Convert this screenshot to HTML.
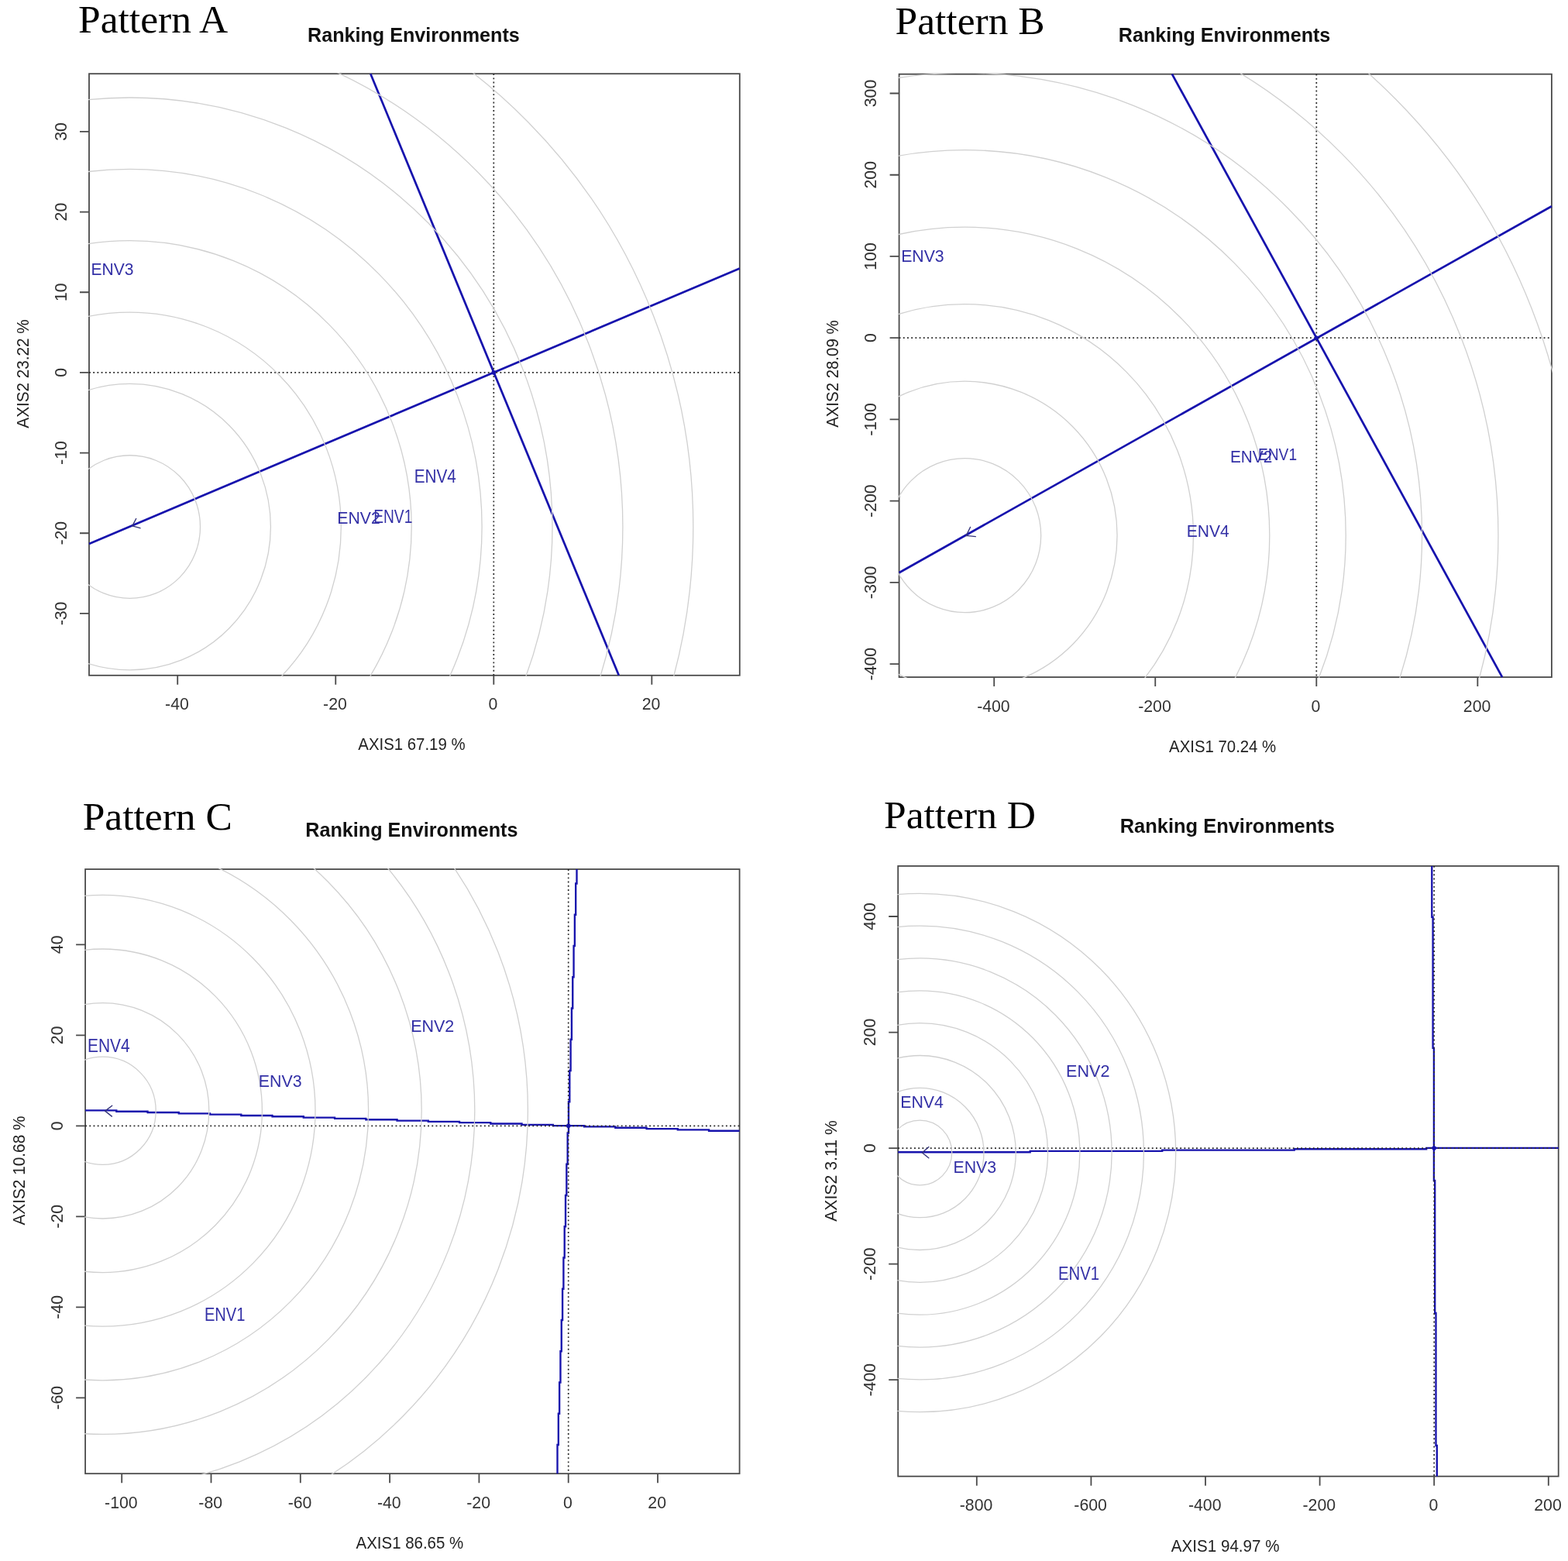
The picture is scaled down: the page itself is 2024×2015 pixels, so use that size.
<!DOCTYPE html>
<html><head><meta charset="utf-8"><title>Ranking Environments</title>
<style>html,body{margin:0;padding:0;background:#fff;}svg{display:block;}</style></head><body>
<svg xmlns="http://www.w3.org/2000/svg" width="2024" height="2015" viewBox="0 0 2024 2015">
<rect x="0" y="0" width="2024" height="2015" fill="#fff"/>
<defs>
<clipPath id="clipA"><rect x="114" y="94.2" width="841.8" height="778.6"/></clipPath>
<clipPath id="clipB"><rect x="1159.6" y="94.7" width="844.3" height="780.4"/></clipPath>
<clipPath id="clipC"><rect x="109.1" y="1121" width="846.5" height="782.2"/></clipPath>
<clipPath id="clipD"><rect x="1158.2" y="1116.9" width="854.5" height="789.8"/></clipPath>
</defs>
<g id="panelA">
<rect x="115" y="95.2" width="839.8" height="776.6" fill="none" stroke="#4a4a4a" stroke-width="1.8"/>
<path d="M229.22 871.8V883.8M433.26 871.8V883.8M637.3 871.8V883.8M841.34 871.8V883.8M115 791.91H103M115 688.24H103M115 584.57H103M115 480.9H103M115 377.23H103M115 273.56H103M115 169.89H103" stroke="#4a4a4a" stroke-width="1.8" fill="none"/>
<text transform="translate(228.42 916.42) scale(0.9500 1)" text-anchor="middle" font-family="'Liberation Sans', Arial, sans-serif" font-size="22.4" fill="#333">-40</text>
<text transform="translate(432.46 916.42) scale(0.9500 1)" text-anchor="middle" font-family="'Liberation Sans', Arial, sans-serif" font-size="22.4" fill="#333">-20</text>
<text transform="translate(636.5 916.42) scale(0.9500 1)" text-anchor="middle" font-family="'Liberation Sans', Arial, sans-serif" font-size="22.4" fill="#333">0</text>
<text transform="translate(840.54 916.42) scale(0.9500 1)" text-anchor="middle" font-family="'Liberation Sans', Arial, sans-serif" font-size="22.4" fill="#333">20</text>
<text transform="translate(85.62 791.91) rotate(-90) scale(0.9500 1)" text-anchor="middle" font-family="'Liberation Sans', Arial, sans-serif" font-size="22.4" fill="#333">-30</text>
<text transform="translate(85.62 688.24) rotate(-90) scale(0.9500 1)" text-anchor="middle" font-family="'Liberation Sans', Arial, sans-serif" font-size="22.4" fill="#333">-20</text>
<text transform="translate(85.62 584.57) rotate(-90) scale(0.9500 1)" text-anchor="middle" font-family="'Liberation Sans', Arial, sans-serif" font-size="22.4" fill="#333">-10</text>
<text transform="translate(85.62 480.9) rotate(-90) scale(0.9500 1)" text-anchor="middle" font-family="'Liberation Sans', Arial, sans-serif" font-size="22.4" fill="#333">0</text>
<text transform="translate(85.62 377.23) rotate(-90) scale(0.9500 1)" text-anchor="middle" font-family="'Liberation Sans', Arial, sans-serif" font-size="22.4" fill="#333">10</text>
<text transform="translate(85.62 273.56) rotate(-90) scale(0.9500 1)" text-anchor="middle" font-family="'Liberation Sans', Arial, sans-serif" font-size="22.4" fill="#333">20</text>
<text transform="translate(85.62 169.89) rotate(-90) scale(0.9500 1)" text-anchor="middle" font-family="'Liberation Sans', Arial, sans-serif" font-size="22.4" fill="#333">30</text>
<g clip-path="url(#clipA)">
<path d="M115 701.9L954.8 346.4M478.3 95.2L798.8 871.8" stroke="#1713ad" stroke-width="2.75" fill="none"/>
<path d="M115 480.9H954.8M637.3 95.2V871.8" stroke="#2a2a2a" stroke-width="1.7" stroke-dasharray="1.9 3.3" fill="none"/>
<circle cx="637.3" cy="480.9" r="2.8" fill="#1713ad"/>
<path d="M175.7 669.5L170.8 678.9M170.8 678.9L180.9 681.7" stroke="#34347a" stroke-width="1.4" fill="none" stroke-linecap="round"/>
<g fill="none" stroke="#d0d0d0" stroke-width="1.3"><ellipse cx="167.6" cy="680.1" rx="90.9" ry="92.35"/><ellipse cx="167.6" cy="680.1" rx="181.8" ry="184.7"/><ellipse cx="167.6" cy="680.1" rx="272.7" ry="277.05"/><ellipse cx="167.6" cy="680.1" rx="363.6" ry="369.4"/><ellipse cx="167.6" cy="680.1" rx="454.5" ry="461.75"/><ellipse cx="167.6" cy="680.1" rx="545.4" ry="554.1"/><ellipse cx="167.6" cy="680.1" rx="636.3" ry="646.45"/><ellipse cx="167.6" cy="680.1" rx="727.2" ry="738.8"/></g>
</g>
<text transform="translate(117.46 355.48) scale(0.9383 1)" font-family="'Liberation Sans', Arial, sans-serif" font-size="22.47" fill="#3330a6">ENV3</text>
<text transform="translate(534.69 623.1) scale(0.8865 1)" font-family="'Liberation Sans', Arial, sans-serif" font-size="23.42" fill="#3330a6">ENV4</text>
<text transform="translate(435.25 675.7) scale(0.9432 1)" font-family="'Liberation Sans', Arial, sans-serif" font-size="22.51" fill="#3330a6">ENV2</text>
<text transform="translate(482.22 674.5) scale(0.8145 1)" font-family="'Liberation Sans', Arial, sans-serif" font-size="23.56" fill="#3330a6">ENV1</text>
<text transform="translate(101.05 41.5) scale(1.0000 1)" font-family="'Liberation Serif', 'Times New Roman', serif" font-size="51.5" fill="#000">Pattern A</text>
<text transform="translate(397 53.7) scale(0.9899 1)" font-family="'Liberation Sans', Arial, sans-serif" font-size="25.4" font-weight="bold" fill="#111">Ranking Environments</text>
<text transform="translate(462.35 967.98) scale(0.9362 1)" font-family="'Liberation Sans', Arial, sans-serif" font-size="21.77" fill="#222">AXIS1 67.19 %</text>
<text transform="translate(36.57 552.65) rotate(-90) scale(0.9162 1)" font-family="'Liberation Sans', Arial, sans-serif" font-size="22.61" fill="#222">AXIS2 23.22 %</text>
</g>
<g id="panelB">
<rect x="1160.6" y="95.7" width="842.3" height="778.4" fill="none" stroke="#4a4a4a" stroke-width="1.8"/>
<path d="M1283.22 874.1V886.1M1491.26 874.1V886.1M1699.3 874.1V886.1M1907.34 874.1V886.1M1160.6 857.12H1148.6M1160.6 751.89H1148.6M1160.6 646.66H1148.6M1160.6 541.43H1148.6M1160.6 436.2H1148.6M1160.6 330.97H1148.6M1160.6 225.74H1148.6M1160.6 120.51H1148.6" stroke="#4a4a4a" stroke-width="1.8" fill="none"/>
<text transform="translate(1282.42 918.72) scale(0.9500 1)" text-anchor="middle" font-family="'Liberation Sans', Arial, sans-serif" font-size="22.4" fill="#333">-400</text>
<text transform="translate(1490.46 918.72) scale(0.9500 1)" text-anchor="middle" font-family="'Liberation Sans', Arial, sans-serif" font-size="22.4" fill="#333">-200</text>
<text transform="translate(1698.5 918.72) scale(0.9500 1)" text-anchor="middle" font-family="'Liberation Sans', Arial, sans-serif" font-size="22.4" fill="#333">0</text>
<text transform="translate(1906.54 918.72) scale(0.9500 1)" text-anchor="middle" font-family="'Liberation Sans', Arial, sans-serif" font-size="22.4" fill="#333">200</text>
<text transform="translate(1131.22 857.12) rotate(-90) scale(0.9500 1)" text-anchor="middle" font-family="'Liberation Sans', Arial, sans-serif" font-size="22.4" fill="#333">-400</text>
<text transform="translate(1131.22 751.89) rotate(-90) scale(0.9500 1)" text-anchor="middle" font-family="'Liberation Sans', Arial, sans-serif" font-size="22.4" fill="#333">-300</text>
<text transform="translate(1131.22 646.66) rotate(-90) scale(0.9500 1)" text-anchor="middle" font-family="'Liberation Sans', Arial, sans-serif" font-size="22.4" fill="#333">-200</text>
<text transform="translate(1131.22 541.43) rotate(-90) scale(0.9500 1)" text-anchor="middle" font-family="'Liberation Sans', Arial, sans-serif" font-size="22.4" fill="#333">-100</text>
<text transform="translate(1131.22 436.2) rotate(-90) scale(0.9500 1)" text-anchor="middle" font-family="'Liberation Sans', Arial, sans-serif" font-size="22.4" fill="#333">0</text>
<text transform="translate(1131.22 330.97) rotate(-90) scale(0.9500 1)" text-anchor="middle" font-family="'Liberation Sans', Arial, sans-serif" font-size="22.4" fill="#333">100</text>
<text transform="translate(1131.22 225.74) rotate(-90) scale(0.9500 1)" text-anchor="middle" font-family="'Liberation Sans', Arial, sans-serif" font-size="22.4" fill="#333">200</text>
<text transform="translate(1131.22 120.51) rotate(-90) scale(0.9500 1)" text-anchor="middle" font-family="'Liberation Sans', Arial, sans-serif" font-size="22.4" fill="#333">300</text>
<g clip-path="url(#clipB)">
<path d="M1160.6 739.2L2002.9 266.2M1512.9 95.7L1939.1 874.1" stroke="#1713ad" stroke-width="2.75" fill="none"/>
<path d="M1160.6 436.2H2002.9M1699.3 95.7V874.1" stroke="#2a2a2a" stroke-width="1.7" stroke-dasharray="1.9 3.3" fill="none"/>
<circle cx="1699.3" cy="436.2" r="2.8" fill="#1713ad"/>
<path d="M1252.5 680.5L1247.2 691.4M1247.2 691.4L1259.3 692.6" stroke="#34347a" stroke-width="1.4" fill="none" stroke-linecap="round"/>
<g fill="none" stroke="#d0d0d0" stroke-width="1.3"><ellipse cx="1245.3" cy="691.2" rx="98.38" ry="99.51"/><ellipse cx="1245.3" cy="691.2" rx="196.76" ry="199.02"/><ellipse cx="1245.3" cy="691.2" rx="295.14" ry="298.53"/><ellipse cx="1245.3" cy="691.2" rx="393.52" ry="398.04"/><ellipse cx="1245.3" cy="691.2" rx="491.9" ry="497.55"/><ellipse cx="1245.3" cy="691.2" rx="590.28" ry="597.06"/><ellipse cx="1245.3" cy="691.2" rx="688.66" ry="696.57"/><ellipse cx="1245.3" cy="691.2" rx="787.04" ry="796.08"/></g>
</g>
<text transform="translate(1163.15 337.97) scale(0.9395 1)" font-family="'Liberation Sans', Arial, sans-serif" font-size="22.61" fill="#3330a6">ENV3</text>
<text transform="translate(1531.76 693.2) scale(0.9155 1)" font-family="'Liberation Sans', Arial, sans-serif" font-size="22.98" fill="#3330a6">ENV4</text>
<text transform="translate(1587.99 597.2) scale(0.9235 1)" font-family="'Liberation Sans', Arial, sans-serif" font-size="22.51" fill="#3330a6">ENV2</text>
<text transform="translate(1624.02 594.3) scale(0.8441 1)" font-family="'Liberation Sans', Arial, sans-serif" font-size="22.69" fill="#3330a6">ENV1</text>
<text transform="translate(1155.55 44.3) scale(1.0000 1)" font-family="'Liberation Serif', 'Times New Roman', serif" font-size="51.5" fill="#000">Pattern B</text>
<text transform="translate(1443.8 54) scale(0.9895 1)" font-family="'Liberation Sans', Arial, sans-serif" font-size="25.4" font-weight="bold" fill="#111">Ranking Environments</text>
<text transform="translate(1509.05 970.68) scale(0.9074 1)" font-family="'Liberation Sans', Arial, sans-serif" font-size="22.47" fill="#222">AXIS1 70.24 %</text>
<text transform="translate(1082.17 551.85) rotate(-90) scale(0.8913 1)" font-family="'Liberation Sans', Arial, sans-serif" font-size="22.9" fill="#222">AXIS2 28.09 %</text>
</g>
<g id="panelC">
<rect x="110.1" y="1122" width="844.5" height="780.2" fill="none" stroke="#4a4a4a" stroke-width="1.8"/>
<path d="M157.2 1902.2V1914.2M272.5 1902.2V1914.2M387.8 1902.2V1914.2M503.1 1902.2V1914.2M618.4 1902.2V1914.2M733.7 1902.2V1914.2M849 1902.2V1914.2M110.1 1804.3H98.1M110.1 1687.3H98.1M110.1 1570.3H98.1M110.1 1453.3H98.1M110.1 1336.3H98.1M110.1 1219.3H98.1" stroke="#4a4a4a" stroke-width="1.8" fill="none"/>
<text transform="translate(156.4 1946.82) scale(0.9500 1)" text-anchor="middle" font-family="'Liberation Sans', Arial, sans-serif" font-size="22.4" fill="#333">-100</text>
<text transform="translate(271.7 1946.82) scale(0.9500 1)" text-anchor="middle" font-family="'Liberation Sans', Arial, sans-serif" font-size="22.4" fill="#333">-80</text>
<text transform="translate(387 1946.82) scale(0.9500 1)" text-anchor="middle" font-family="'Liberation Sans', Arial, sans-serif" font-size="22.4" fill="#333">-60</text>
<text transform="translate(502.3 1946.82) scale(0.9500 1)" text-anchor="middle" font-family="'Liberation Sans', Arial, sans-serif" font-size="22.4" fill="#333">-40</text>
<text transform="translate(617.6 1946.82) scale(0.9500 1)" text-anchor="middle" font-family="'Liberation Sans', Arial, sans-serif" font-size="22.4" fill="#333">-20</text>
<text transform="translate(732.9 1946.82) scale(0.9500 1)" text-anchor="middle" font-family="'Liberation Sans', Arial, sans-serif" font-size="22.4" fill="#333">0</text>
<text transform="translate(848.2 1946.82) scale(0.9500 1)" text-anchor="middle" font-family="'Liberation Sans', Arial, sans-serif" font-size="22.4" fill="#333">20</text>
<text transform="translate(80.72 1804.3) rotate(-90) scale(0.9500 1)" text-anchor="middle" font-family="'Liberation Sans', Arial, sans-serif" font-size="22.4" fill="#333">-60</text>
<text transform="translate(80.72 1687.3) rotate(-90) scale(0.9500 1)" text-anchor="middle" font-family="'Liberation Sans', Arial, sans-serif" font-size="22.4" fill="#333">-40</text>
<text transform="translate(80.72 1570.3) rotate(-90) scale(0.9500 1)" text-anchor="middle" font-family="'Liberation Sans', Arial, sans-serif" font-size="22.4" fill="#333">-20</text>
<text transform="translate(80.72 1453.3) rotate(-90) scale(0.9500 1)" text-anchor="middle" font-family="'Liberation Sans', Arial, sans-serif" font-size="22.4" fill="#333">0</text>
<text transform="translate(80.72 1336.3) rotate(-90) scale(0.9500 1)" text-anchor="middle" font-family="'Liberation Sans', Arial, sans-serif" font-size="22.4" fill="#333">20</text>
<text transform="translate(80.72 1219.3) rotate(-90) scale(0.9500 1)" text-anchor="middle" font-family="'Liberation Sans', Arial, sans-serif" font-size="22.4" fill="#333">40</text>
<g clip-path="url(#clipC)">
<path d="M110.1 1433.4L150.3 1433.4L150.3 1434.72L190.55 1434.72L190.55 1436.03L230.8 1436.03L230.8 1437.35L271.05 1437.35L271.05 1438.66L311.3 1438.66L311.3 1439.98L351.55 1439.98L351.55 1441.29L391.8 1441.29L391.8 1442.61L432.05 1442.61L432.05 1443.92L472.3 1443.92L472.3 1445.24L512.55 1445.24L512.55 1446.55L552.8 1446.55L552.8 1447.87L593.05 1447.87L593.05 1449.18L633.3 1449.18L633.3 1450.5L673.55 1450.5L673.55 1451.81L713.8 1451.81L713.8 1453.12L754.05 1453.12L754.05 1454.44L794.3 1454.44L794.3 1455.76L834.55 1455.76L834.55 1457.07L874.8 1457.07L874.8 1458.38L915.05 1458.38L915.05 1459.7L954.6 1459.7M744.5 1122L744.5 1140.5L743.18 1140.5L743.18 1180.75L741.87 1180.75L741.87 1221L740.55 1221L740.55 1261.25L739.24 1261.25L739.24 1301.5L737.92 1301.5L737.92 1341.75L736.61 1341.75L736.61 1382L735.29 1382L735.29 1422.25L733.97 1422.25L733.97 1462.5L732.66 1462.5L732.66 1502.75L731.34 1502.75L731.34 1543L730.03 1543L730.03 1583.25L728.71 1583.25L728.71 1623.5L727.39 1623.5L727.39 1663.75L726.08 1663.75L726.08 1704L724.76 1704L724.76 1744.25L723.45 1744.25L723.45 1784.5L722.13 1784.5L722.13 1824.75L720.82 1824.75L720.82 1865L719.5 1865L719.5 1902.2" stroke="#1713ad" stroke-width="2.35" fill="none" stroke-linejoin="miter"/>
<path d="M110.1 1453.3H954.6M733.7 1122V1902.2" stroke="#2a2a2a" stroke-width="1.7" stroke-dasharray="1.9 3.3" fill="none"/>
<circle cx="733.7" cy="1453.3" r="2.8" fill="#1713ad"/>
<path d="M144.7 1427.2L135.7 1434.1M135.7 1434.1L144.4 1441.1" stroke="#34347a" stroke-width="1.4" fill="none" stroke-linecap="round"/>
<g fill="none" stroke="#d0d0d0" stroke-width="1.3"><ellipse cx="132.6" cy="1433.8" rx="68.6" ry="69.6"/><ellipse cx="132.6" cy="1433.8" rx="137.2" ry="139.2"/><ellipse cx="132.6" cy="1433.8" rx="205.8" ry="208.8"/><ellipse cx="132.6" cy="1433.8" rx="274.4" ry="278.4"/><ellipse cx="132.6" cy="1433.8" rx="343" ry="348"/><ellipse cx="132.6" cy="1433.8" rx="411.6" ry="417.6"/><ellipse cx="132.6" cy="1433.8" rx="480.2" ry="487.2"/><ellipse cx="132.6" cy="1433.8" rx="548.8" ry="556.8"/></g>
</g>
<text transform="translate(112.97 1358.1) scale(0.9063 1)" font-family="'Liberation Sans', Arial, sans-serif" font-size="23.13" fill="#3330a6">ENV4</text>
<text transform="translate(333.84 1402.97) scale(0.9431 1)" font-family="'Liberation Sans', Arial, sans-serif" font-size="22.61" fill="#3330a6">ENV3</text>
<text transform="translate(530.23 1331.9) scale(0.9361 1)" font-family="'Liberation Sans', Arial, sans-serif" font-size="22.94" fill="#3330a6">ENV2</text>
<text transform="translate(263.94 1705) scale(0.8700 1)" font-family="'Liberation Sans', Arial, sans-serif" font-size="23.13" fill="#3330a6">ENV1</text>
<text transform="translate(106.66 1071.1) scale(1.0000 1)" font-family="'Liberation Serif', 'Times New Roman', serif" font-size="51.5" fill="#000">Pattern C</text>
<text transform="translate(394.2 1079.8) scale(0.9921 1)" font-family="'Liberation Sans', Arial, sans-serif" font-size="25.4" font-weight="bold" fill="#111">Ranking Environments</text>
<text transform="translate(459.55 1998.78) scale(0.9396 1)" font-family="'Liberation Sans', Arial, sans-serif" font-size="21.77" fill="#222">AXIS1 86.65 %</text>
<text transform="translate(31.57 1581.55) rotate(-90) scale(0.9201 1)" font-family="'Liberation Sans', Arial, sans-serif" font-size="22.61" fill="#222">AXIS2 10.68 %</text>
</g>
<g id="panelD">
<rect x="1159.2" y="1117.9" width="852.5" height="787.8" fill="none" stroke="#4a4a4a" stroke-width="1.8"/>
<path d="M1260.8 1905.7V1917.7M1408.4 1905.7V1917.7M1556 1905.7V1917.7M1703.6 1905.7V1917.7M1851.2 1905.7V1917.7M1998.8 1905.7V1917.7M1159.2 1781.22H1147.2M1159.2 1631.66H1147.2M1159.2 1482.1H1147.2M1159.2 1332.54H1147.2M1159.2 1182.98H1147.2" stroke="#4a4a4a" stroke-width="1.8" fill="none"/>
<text transform="translate(1260 1950.32) scale(0.9500 1)" text-anchor="middle" font-family="'Liberation Sans', Arial, sans-serif" font-size="22.4" fill="#333">-800</text>
<text transform="translate(1407.6 1950.32) scale(0.9500 1)" text-anchor="middle" font-family="'Liberation Sans', Arial, sans-serif" font-size="22.4" fill="#333">-600</text>
<text transform="translate(1555.2 1950.32) scale(0.9500 1)" text-anchor="middle" font-family="'Liberation Sans', Arial, sans-serif" font-size="22.4" fill="#333">-400</text>
<text transform="translate(1702.8 1950.32) scale(0.9500 1)" text-anchor="middle" font-family="'Liberation Sans', Arial, sans-serif" font-size="22.4" fill="#333">-200</text>
<text transform="translate(1850.4 1950.32) scale(0.9500 1)" text-anchor="middle" font-family="'Liberation Sans', Arial, sans-serif" font-size="22.4" fill="#333">0</text>
<text transform="translate(1998 1950.32) scale(0.9500 1)" text-anchor="middle" font-family="'Liberation Sans', Arial, sans-serif" font-size="22.4" fill="#333">200</text>
<text transform="translate(1129.82 1781.22) rotate(-90) scale(0.9500 1)" text-anchor="middle" font-family="'Liberation Sans', Arial, sans-serif" font-size="22.4" fill="#333">-400</text>
<text transform="translate(1129.82 1631.66) rotate(-90) scale(0.9500 1)" text-anchor="middle" font-family="'Liberation Sans', Arial, sans-serif" font-size="22.4" fill="#333">-200</text>
<text transform="translate(1129.82 1482.1) rotate(-90) scale(0.9500 1)" text-anchor="middle" font-family="'Liberation Sans', Arial, sans-serif" font-size="22.4" fill="#333">0</text>
<text transform="translate(1129.82 1332.54) rotate(-90) scale(0.9500 1)" text-anchor="middle" font-family="'Liberation Sans', Arial, sans-serif" font-size="22.4" fill="#333">200</text>
<text transform="translate(1129.82 1182.98) rotate(-90) scale(0.9500 1)" text-anchor="middle" font-family="'Liberation Sans', Arial, sans-serif" font-size="22.4" fill="#333">400</text>
<g clip-path="url(#clipD)">
<path d="M1159.2 1487.2L1329.7 1487.2L1329.7 1485.88L1500.2 1485.88L1500.2 1484.55L1670.7 1484.55L1670.7 1483.23L1841.2 1483.23L1841.2 1481.9L2011.7 1481.9M1848.3 1117.9L1848.3 1183.7L1849.6 1183.7L1849.6 1352.7L1850.9 1352.7L1850.9 1524L1852.2 1524L1852.2 1695L1853.5 1695L1853.5 1866L1854.8 1866L1854.8 1905.7" stroke="#1713ad" stroke-width="2.35" fill="none" stroke-linejoin="miter"/>
<path d="M1159.2 1482.1H2011.7M1851.2 1117.9V1905.7" stroke="#2a2a2a" stroke-width="1.7" stroke-dasharray="1.9 3.3" fill="none"/>
<circle cx="1851.2" cy="1482.1" r="2.8" fill="#1713ad"/>
<path d="M1198.8 1480.5L1190.4 1488M1190.4 1488L1198.8 1494.8" stroke="#34347a" stroke-width="1.4" fill="none" stroke-linecap="round"/>
<g fill="none" stroke="#d0d0d0" stroke-width="1.3"><ellipse cx="1187.4" cy="1488" rx="41.29" ry="41.84"/><ellipse cx="1187.4" cy="1488" rx="82.58" ry="83.68"/><ellipse cx="1187.4" cy="1488" rx="123.87" ry="125.52"/><ellipse cx="1187.4" cy="1488" rx="165.16" ry="167.36"/><ellipse cx="1187.4" cy="1488" rx="206.45" ry="209.2"/><ellipse cx="1187.4" cy="1488" rx="247.74" ry="251.04"/><ellipse cx="1187.4" cy="1488" rx="289.03" ry="292.88"/><ellipse cx="1187.4" cy="1488" rx="330.32" ry="334.72"/></g>
</g>
<text transform="translate(1376.12 1389.8) scale(0.9455 1)" font-family="'Liberation Sans', Arial, sans-serif" font-size="22.8" fill="#3330a6">ENV2</text>
<text transform="translate(1162.14 1429.8) scale(0.9354 1)" font-family="'Liberation Sans', Arial, sans-serif" font-size="22.84" fill="#3330a6">ENV4</text>
<text transform="translate(1230.44 1513.58) scale(0.9490 1)" font-family="'Liberation Sans', Arial, sans-serif" font-size="22.47" fill="#3330a6">ENV3</text>
<text transform="translate(1366.03 1651.9) scale(0.8770 1)" font-family="'Liberation Sans', Arial, sans-serif" font-size="23.13" fill="#3330a6">ENV1</text>
<text transform="translate(1141.05 1068.5) scale(1.0000 1)" font-family="'Liberation Serif', 'Times New Roman', serif" font-size="51.5" fill="#000">Pattern D</text>
<text transform="translate(1445.68 1075.3) scale(1.0026 1)" font-family="'Liberation Sans', Arial, sans-serif" font-size="25.4" font-weight="bold" fill="#111">Ranking Environments</text>
<text transform="translate(1511.85 2002.98) scale(0.9464 1)" font-family="'Liberation Sans', Arial, sans-serif" font-size="21.77" fill="#222">AXIS1 94.97 %</text>
<text transform="translate(1079.67 1576.85) rotate(-90) scale(0.9274 1)" font-family="'Liberation Sans', Arial, sans-serif" font-size="22.9" fill="#222">AXIS2 3.11 %</text>
</g>
</svg>
</body></html>
